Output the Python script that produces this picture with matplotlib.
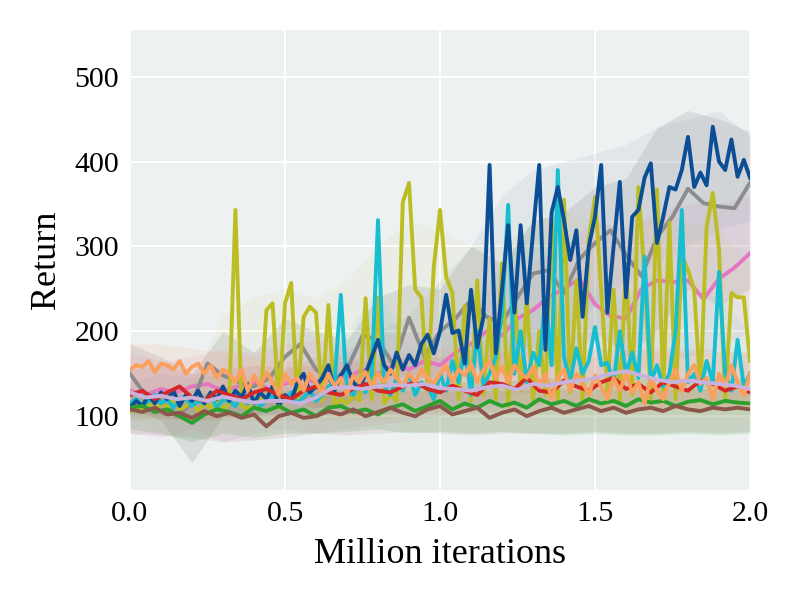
import numpy as np
import matplotlib
matplotlib.use("Agg")
import matplotlib.pyplot as plt

plt.rcParams['font.family'] = ['Liberation Serif', 'DejaVu Serif']

# iteration grids (million iterations)
x101 = np.linspace(0, 2, 101)
x51 = np.linspace(0, 2, 51)
x41 = np.linspace(0, 2, 41)
x21 = np.linspace(0, 2, 21)

# mean returns
blue = [110, 118, 112, 125, 115, 128, 120, 130, 112, 125,
        118, 130, 115, 128, 120, 135, 118, 130, 122, 138,
        115, 128, 120, 135, 112, 125, 118, 140, 150, 128,
        135, 145, 160, 130, 148, 160, 140, 132, 150, 170,
        190, 160, 150, 175, 155, 172, 160, 185, 196, 174,
        200, 243, 198, 201, 162, 249, 181, 217, 396, 174,
        249, 325, 222, 325, 233, 316, 396, 178, 340, 370,
        331, 284, 319, 217, 300, 335, 396, 222, 300, 376,
        240, 335, 343, 381, 398, 304, 335, 370, 367, 390,
        429, 370, 387, 372, 441, 400, 390, 426, 382, 402,
        381]
olive = [105, 112, 108, 118, 105, 115, 110, 120, 108, 112,
         118, 105, 115, 110, 120, 108, 115, 343, 112, 108,
         120, 110, 225, 233, 110, 233, 257, 115, 217, 229,
         222, 118, 231, 112, 120, 115, 125, 118, 239, 120,
         240, 115, 125, 118, 352, 375, 249, 240, 130, 276,
         343, 264, 245, 120, 230, 118, 260, 125, 215, 120,
         280, 112, 250, 130, 240, 118, 200, 125, 331, 120,
         355, 128, 260, 120, 308, 358, 249, 130, 249, 118,
         280, 125, 370, 264, 120, 367, 130, 328, 120, 290,
         272, 249, 130, 323, 363, 296, 120, 245, 240, 240,
         165]
cyan = [115, 120, 112, 118, 125, 115, 120, 110, 118, 122,
        112, 118, 115, 125, 110, 120, 118, 112, 125, 115,
        120, 112, 118, 125, 115, 120, 128, 115, 122, 130,
        118, 125, 135, 140, 243, 130, 125, 140, 128, 150,
        331, 135, 125, 145, 130, 150, 125, 140, 135, 120,
        150, 130, 165, 140, 180, 125, 200, 135, 150, 170,
        220, 349, 150, 200, 140, 175, 160, 240, 160, 390,
        170, 140, 180, 150, 165, 205, 160, 163, 140, 200,
        150, 175, 145, 288, 140, 160, 135, 150, 200, 343,
        140, 150, 130, 165, 140, 270, 150, 130, 190, 135,
        150]
orange = [155, 160, 158, 165, 152, 162, 160, 155, 165, 150,
          158, 162, 150, 160, 145, 155, 150, 140, 155, 130,
          148, 135, 152, 140, 125, 150, 138, 145, 130, 150,
          140, 128, 150, 135, 145, 125, 148, 140, 152, 135,
          150, 140, 155, 145, 135, 150, 140, 155, 145, 138,
          150, 160, 140, 155, 148, 162, 140, 155, 165, 145,
          158, 140, 160, 150, 145, 158, 135, 150, 120, 145,
          155, 130, 150, 140, 125, 148, 135, 120, 145, 130,
          150, 128, 140, 115, 145, 130, 120, 140, 155, 130,
          150, 160, 138, 145, 120, 150, 135, 160, 140, 125,
          150]
red = [125, 130, 120, 128, 135, 122, 118, 130, 125, 120,
       128, 132, 125, 120, 130, 135, 128, 125, 132, 138,
       130, 128, 135, 140, 132, 128, 136, 130, 125, 140,
       138, 132, 145, 130, 128, 142, 135, 130, 140, 145,
       132, 138, 128, 140, 135, 130, 142, 138, 130, 135,
       128]
green = [110, 112, 105, 108, 100, 92, 102, 108, 105, 100,
         110, 106, 112, 104, 108, 100, 110, 112, 105, 108,
         102, 110, 114, 106, 112, 118, 108, 115, 110, 118,
         112, 116, 110, 120, 114, 118, 112, 120, 115, 118,
         112, 120, 116, 118, 112, 117, 119, 114, 118, 116,
         115]
brown = [108, 105, 110, 102, 104, 98, 106, 100, 104, 98,
         102, 88, 100, 104, 98, 100, 106, 102, 108, 100,
         105, 110, 104, 100, 108, 112, 102, 106, 110, 98,
         104, 108, 100, 106, 110, 104, 108, 112, 106, 110,
         104, 108, 110, 106, 112, 108, 106, 110, 108, 110,
         108]
gray = [150, 125, 118, 100, 115, 162, 148, 140, 135, 145,
        170, 185, 155, 140, 155, 195, 190, 160, 216, 170,
        200, 215, 237, 217, 210, 240, 268, 272, 245, 285,
        304, 319, 290, 265, 311, 335, 368, 351, 347, 345,
        375]
lavender = [128, 122, 124, 120, 122, 118, 123, 119, 116, 118,
            118, 115, 122, 133, 134, 132, 135, 137, 136, 138,
            133, 132, 130, 134, 136, 131, 138, 136, 140, 142,
            145, 150, 153, 148, 143, 140, 142, 140, 138, 136,
            132]
pink = [130, 125, 132, 128, 135, 138, 130, 135, 140, 132,
        138, 145, 140, 150, 145, 155, 150, 160, 155, 165,
        160, 175, 185, 200, 195, 215, 225, 240, 250, 262,
        232, 218, 215, 250, 260, 258, 260, 238, 262, 275,
        292]

# shaded spread (lower / upper), every 0.1M iterations
gray_lo = [110, 95, 45, 100, 100, 120, 110, 115, 135, 150, 140,
           160, 150, 180, 150, 200, 170, 200, 250, 230, 250]
gray_hi = [185, 170, 150, 200, 175, 215, 200, 190, 240, 255, 250,
           300, 280, 330, 340, 370, 380, 440, 460, 450, 435]
blue_lo = [95, 100, 100, 100, 100, 105, 110, 115, 125, 140, 150,
           160, 170, 180, 200, 230, 260, 280, 300, 320, 330]
blue_hi = [140, 150, 145, 150, 145, 155, 170, 175, 200, 220, 260,
           300, 360, 390, 400, 410, 420, 440, 450, 460, 430]
pink_lo = [80, 75, 85, 70, 80, 85, 80, 85, 90, 95, 100,
           110, 120, 130, 140, 150, 150, 160, 170, 180, 200]
pink_hi = [175, 165, 170, 180, 175, 185, 190, 180, 195, 200, 205,
           230, 260, 280, 300, 330, 320, 340, 350, 350, 360]
olive_lo = [95, 95, 95, 95, 95, 95, 95, 95, 95, 100, 100,
            100, 100, 100, 100, 100, 100, 100, 100, 100, 100]
olive_hi = [130, 130, 140, 220, 240, 250, 240, 260, 300, 330, 320,
            300, 300, 330, 340, 330, 320, 340, 330, 320, 280]
cyan_lo = [100, 100, 100, 100, 100, 100, 100, 105, 105, 105, 110,
           110, 110, 115, 115, 115, 115, 115, 115, 115, 115]
cyan_hi = [130, 130, 130, 130, 130, 135, 140, 200, 250, 180, 200,
           230, 280, 330, 260, 250, 240, 270, 250, 240, 200]
orange_lo = [130, 130, 125, 120, 115, 112, 110, 112, 115, 115, 118,
             118, 118, 115, 112, 110, 108, 108, 110, 110, 110]
orange_hi = [185, 185, 180, 175, 170, 165, 165, 170, 170, 175, 180,
             180, 180, 175, 175, 170, 170, 175, 175, 175, 175]
green_lo = [85, 80, 70, 80, 75, 80, 80, 82, 85, 80, 82,
            80, 82, 80, 78, 80, 78, 78, 80, 78, 80]
green_hi = [130, 125, 125, 130, 130, 130, 135, 135, 140, 140, 140,
            140, 140, 145, 145, 145, 145, 145, 145, 145, 145]
brown_lo = [80, 78, 75, 70, 72, 75, 80, 78, 80, 82, 80,
            78, 80, 80, 80, 82, 80, 80, 82, 80, 82]
brown_hi = [130, 128, 125, 125, 125, 128, 128, 130, 130, 130, 130,
            130, 130, 132, 132, 132, 132, 132, 132, 132, 132]
red_lo = [100, 98, 95, 98, 100, 100, 102, 100, 102, 105, 105,
          105, 105, 108, 108, 110, 108, 110, 110, 108, 108]
red_hi = [155, 160, 150, 155, 160, 158, 160, 165, 165, 170, 170,
          170, 175, 175, 175, 180, 178, 180, 180, 178, 175]

c_blue = '#0c4e95'
c_olive = '#bcbd22'
c_cyan = '#17becf'
c_orange = '#fa9f5c'
c_red = '#d62728'
c_green = '#2ca02c'
c_brown = '#8c564b'
c_gray = '#8c8c8c'
c_lav = '#c9b3dc'
c_pink = '#e377c2'

fig = plt.figure(figsize=(8, 6), dpi=100)
ax = fig.add_axes([0.1625, 0.1833, 0.775, 0.7667])
ax.set_facecolor('#edf1f2')

bands = [
    (gray_lo, gray_hi, c_gray, 0.2),
    (pink_lo, pink_hi, c_pink, 0.1),
    (blue_lo, blue_hi, '#a0a8b4', 0.15),
    (olive_lo, olive_hi, c_olive, 0.06),
    (cyan_lo, cyan_hi, c_cyan, 0.06),
    (green_lo, green_hi, c_green, 0.15),
    (brown_lo, brown_hi, c_brown, 0.12),
    (red_lo, red_hi, c_red, 0.08),
    (orange_lo, orange_hi, c_orange, 0.12),
]
for lo, hi, c, a in bands:
    ax.fill_between(x21, lo, hi, color=c, alpha=a, linewidth=0)

lw = 2.8
ax.plot(x41, pink, color=c_pink, lw=lw)
ax.plot(x41, gray, color=c_gray, lw=lw)
ax.plot(x101, olive, color=c_olive, lw=lw)
ax.plot(x101, cyan, color=c_cyan, lw=lw)
ax.plot(x101, blue, color=c_blue, lw=lw)
ax.plot(x51, red, color=c_red, lw=lw)
ax.plot(x51, green, color=c_green, lw=lw)
ax.plot(x51, brown, color=c_brown, lw=lw)
ax.plot(x101, orange, color=c_orange, lw=lw)
ax.plot(x41, lavender, color=c_lav, lw=lw)

ax.set_xlim(0, 2)
ax.set_ylim(13, 555)
ax.set_xticks([0.0, 0.5, 1.0, 1.5, 2.0])
ax.set_xticklabels(['0.0', '0.5', '1.0', '1.5', '2.0'])
ax.set_yticks([100, 200, 300, 400, 500])
ax.grid(True, color='white', linewidth=1.5)
ax.set_axisbelow(True)
for s in ax.spines.values():
    s.set_visible(False)
ax.tick_params(length=0, labelsize=21.5, pad=8)
ax.set_xlabel('Million iterations', fontsize=26, labelpad=8)
ax.set_ylabel('Return', fontsize=26, labelpad=8)

fig.savefig('out.png', dpi=100)
